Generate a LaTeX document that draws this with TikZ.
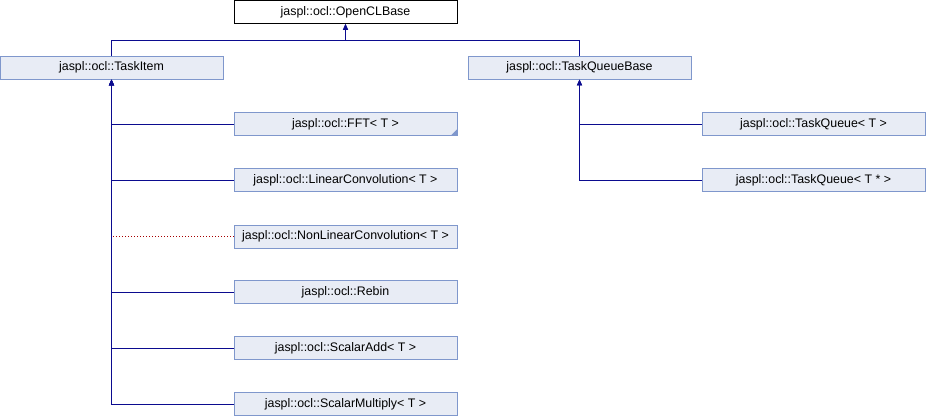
\documentclass[tikz,border=0pt]{standalone}
\usepackage{fontspec}
\setmainfont{Liberation Sans}
\usepackage{tikz}
\usetikzlibrary{arrows.meta, positioning, calc}
\definecolor{classfill}{HTML}{E8ECF5}
\definecolor{classborder}{HTML}{7F97CC}
\definecolor{edgeblue}{HTML}{0B0B8F}
\definecolor{usagered}{HTML}{A50000}

\begin{document}
\begin{tikzpicture}[
    x=1pt, y=-1pt,
    cls/.style={
        font=\fontsize{12.4}{14}\selectfont,
        draw=classborder,
        fill=classfill,
        line width=0.9pt,
        minimum width=223pt,
        minimum height=23pt,
        inner sep=0pt
    },
    rootcls/.style={
        cls,
        draw=black,
        fill=white
    },
    edge/.style={
        -{Triangle[width=5pt,length=6pt]},
        line width=1pt,
        color=edgeblue
    },
    usage/.style={
        dotted,
        line width=1pt,
        color=usagered
    }
]
\useasboundingbox (0,0) rectangle (926,416);

% base classes
\node[rootcls] (base) at (345.5, 12) {jaspl::ocl::OpenCLBase};
\node[cls] (taskitem) at (111.5, 67.5) {jaspl::ocl::TaskItem};
\node[cls] (queuebase) at (579.5, 67.5) {jaspl::ocl::TaskQueueBase};

% task items (left)
\node[cls] (fft) at (345.5, 124) {jaspl::ocl::FFT< T >};
\node[cls] (linconv) at (345.5, 180) {jaspl::ocl::LinearConvolution< T >};
\node[cls] (nonlinconv) at (345.5, 236.5) {jaspl::ocl::NonLinearConvolution< T >};
\node[cls] (rebin) at (345.5, 292) {jaspl::ocl::Rebin};
\node[cls] (scalaradd) at (345.5, 348) {jaspl::ocl::ScalarAdd< T >};
\node[cls] (scalarmul) at (345.5, 404) {jaspl::ocl::ScalarMultiply< T >};

% task queues (right)
\node[cls] (queue) at (813.5, 124) {jaspl::ocl::TaskQueue< T >};
\node[cls] (queueptr) at (813.5, 180) {jaspl::ocl::TaskQueue< T * >};

% truncated mark on FFT
\fill[classborder] (fft.south east) -- ([xshift=-7pt]fft.south east) -- ([yshift=7pt]fft.south east) -- cycle;

% inheritance from OpenCLBase
\coordinate (bus) at (345.5, 40);
\draw[edge] (taskitem.north) |- (bus) -- (base.south);
\draw[edge] (queuebase.north) |- (bus) -- (base.south);

% inheritance from TaskItem
\draw[edge] (scalarmul.west) -| (taskitem.south);
\draw[edge] (scalaradd.west) -| (taskitem.south);
\draw[edge] (rebin.west) -| (taskitem.south);
\draw[edge] (linconv.west) -| (taskitem.south);
\draw[edge] (fft.west) -| (taskitem.south);
\draw[usage] (nonlinconv.west) -- (nonlinconv.west -| taskitem.south);

% inheritance from TaskQueueBase
\draw[edge] (queueptr.west) -| (queuebase.south);
\draw[edge] (queue.west) -| (queuebase.south);

\end{tikzpicture}
\end{document}
